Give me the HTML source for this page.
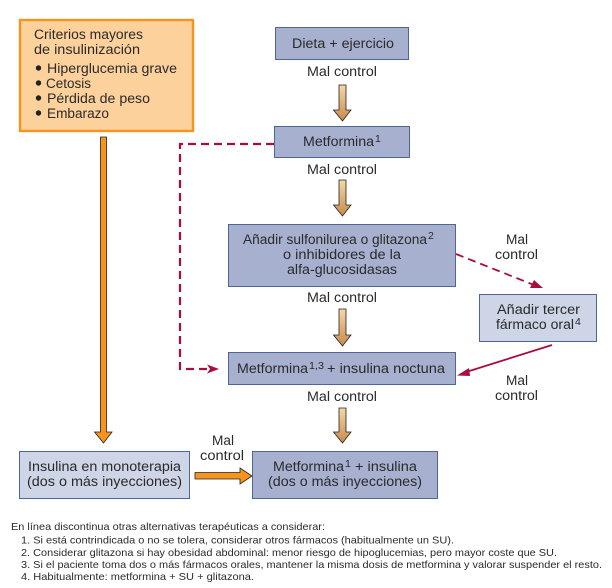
<!DOCTYPE html>
<html><head><meta charset="utf-8">
<style>
html,body{margin:0;padding:0;background:#fff;width:612px;height:588px;overflow:hidden}
svg{display:block}
text{font-family:"Liberation Sans",sans-serif;font-size:13.5px;fill:#2a2a2a}
.f{font-size:10.5px}
.sup{font-size:10.5px}
</style></head><body>
<svg width="612" height="588" viewBox="0 0 612 588" xmlns="http://www.w3.org/2000/svg">
<defs>
<linearGradient id="b" x1="0" y1="0" x2="0" y2="1"><stop offset="0" stop-color="#f3d9a6"/><stop offset="1" stop-color="#c88a4e"/></linearGradient>
</defs>

<!-- boxes -->
<rect x="20" y="20" width="173" height="111" fill="#fdd19b" stroke="#f7941d" stroke-width="2.4"/>
<rect x="275.5" y="27.5" width="133" height="32" fill="#a7b1cf" stroke="#4c6796" stroke-width="1"/>
<rect x="274.5" y="126.5" width="135" height="31" fill="#a7b1cf" stroke="#4c6796" stroke-width="1"/>
<rect x="228.5" y="224.5" width="227" height="62" fill="#a7b1cf" stroke="#4c6796" stroke-width="1"/>
<rect x="479.5" y="294.5" width="117" height="47" fill="#ced5e6" stroke="#4c6796" stroke-width="1"/>
<rect x="228.5" y="352.5" width="227" height="32" fill="#a7b1cf" stroke="#4c6796" stroke-width="1"/>
<rect x="252.5" y="451.5" width="185" height="47" fill="#a7b1cf" stroke="#4c6796" stroke-width="1"/>
<rect x="19.5" y="451.5" width="170" height="47" fill="#ced5e6" stroke="#4c6796" stroke-width="1"/>

<!-- brown arrows -->
<polygon points="339,85 346,85 346,110 351,110 342.5,121 333.5,110 339,110" fill="url(#b)" stroke="#222" stroke-width=".8"/>
<polygon points="339,180 346,180 346,205 351,205 342.5,216 333.5,205 339,205" fill="url(#b)" stroke="#222" stroke-width=".8"/>
<polygon points="339,309 346,309 346,335 351,335 342.5,346 333.5,335 339,335" fill="url(#b)" stroke="#222" stroke-width=".8"/>
<polygon points="339,408 346,408 346,432 351,432 342.5,443 333.5,432 339,432" fill="url(#b)" stroke="#222" stroke-width=".8"/>

<!-- orange arrows -->
<polygon points="100.5,137 106.5,137 106.5,432 112,432 103.5,443 94.5,432 100.5,432" fill="#f7941d" stroke="#222" stroke-width=".8"/>
<polygon points="195,472.5 240,472.5 240,468 252,476 240,484 240,479 195,479" fill="#f7941d" stroke="#222" stroke-width=".8"/>

<!-- dashed connector -->
<path d="M274 144H180V369H210" fill="none" stroke="#a80d3e" stroke-width="2.2" stroke-dasharray="8 5"/>
<polygon points="207,364.500 219,369 207,373.500 210,369" fill="#a80d3e"/>
<path d="M456 254L534 285" fill="none" stroke="#a80d3e" stroke-width="1.800" stroke-dasharray="8 5"/>
<polygon points="543,288 530,288 534,280" fill="#a80d3e"/>
<path d="M552 345L463 373" fill="none" stroke="#a80d3e" stroke-width="1.800"/>
<polygon points="457,375.500 469,368 470,376" fill="#a80d3e"/>

<!-- orange box text -->
<text x="34" y="39" textLength="109" lengthAdjust="spacingAndGlyphs">Criterios mayores</text>
<text x="34" y="54" textLength="106" lengthAdjust="spacingAndGlyphs">de insulinización</text>
<circle cx="38.500" cy="68" r="2.700" fill="#222"/>
<circle cx="38.500" cy="83" r="2.700" fill="#222"/>
<circle cx="38.500" cy="98" r="2.700" fill="#222"/>
<circle cx="38.500" cy="113" r="2.700" fill="#222"/>
<text x="47" y="73" textLength="130" lengthAdjust="spacingAndGlyphs">Hiperglucemia grave</text>
<text x="46" y="88" textLength="45" lengthAdjust="spacingAndGlyphs">Cetosis</text>
<text x="47" y="103" textLength="103" lengthAdjust="spacingAndGlyphs">Pérdida de peso</text>
<text x="47" y="118" textLength="62" lengthAdjust="spacingAndGlyphs">Embarazo</text>

<!-- flow text -->
<text x="292" y="48" textLength="102" lengthAdjust="spacingAndGlyphs">Dieta + ejercicio</text>
<text x="307" y="76" textLength="70" lengthAdjust="spacingAndGlyphs">Mal control</text>
<text x="303" y="146" textLength="71" lengthAdjust="spacingAndGlyphs">Metformina</text>
<text x="375" y="142" class="sup">1</text>
<text x="307" y="174" textLength="70" lengthAdjust="spacingAndGlyphs">Mal control</text>
<text x="243" y="244" textLength="184" lengthAdjust="spacingAndGlyphs">Añadir sulfonilurea o glitazona</text>
<text x="428" y="239" class="sup">2</text>
<text x="283" y="259" textLength="118" lengthAdjust="spacingAndGlyphs">o inhibidores de la</text>
<text x="287" y="274" textLength="110" lengthAdjust="spacingAndGlyphs">alfa-glucosidasas</text>
<text x="307" y="302" textLength="70" lengthAdjust="spacingAndGlyphs">Mal control</text>
<text x="237" y="373" textLength="71" lengthAdjust="spacingAndGlyphs">Metformina</text>
<text x="309" y="369" class="sup" textLength="15" lengthAdjust="spacingAndGlyphs">1,3</text>
<text x="327" y="373" textLength="118" lengthAdjust="spacingAndGlyphs">+ insulina noctuna</text>
<text x="307" y="401" textLength="70" lengthAdjust="spacingAndGlyphs">Mal control</text>
<text x="273" y="471" textLength="71" lengthAdjust="spacingAndGlyphs">Metformina</text>
<text x="345" y="467" class="sup">1</text>
<text x="355" y="471" textLength="62" lengthAdjust="spacingAndGlyphs">+ insulina</text>
<text x="268" y="486" textLength="154" lengthAdjust="spacingAndGlyphs">(dos o más inyecciones)</text>
<text x="28" y="471" textLength="153" lengthAdjust="spacingAndGlyphs">Insulina en monoterapia</text>
<text x="27" y="486" textLength="155" lengthAdjust="spacingAndGlyphs">(dos o más inyecciones)</text>
<text x="212" y="445" textLength="22" lengthAdjust="spacingAndGlyphs">Mal</text>
<text x="200" y="460" textLength="44" lengthAdjust="spacingAndGlyphs">control</text>
<text x="506" y="244" textLength="22" lengthAdjust="spacingAndGlyphs">Mal</text>
<text x="495" y="259" textLength="43" lengthAdjust="spacingAndGlyphs">control</text>
<text x="497" y="314" textLength="83" lengthAdjust="spacingAndGlyphs">Añadir tercer</text>
<text x="496" y="329" textLength="78" lengthAdjust="spacingAndGlyphs">fármaco oral</text>
<text x="575" y="325" class="sup">4</text>
<text x="506" y="385" textLength="22" lengthAdjust="spacingAndGlyphs">Mal</text>
<text x="495" y="400" textLength="43" lengthAdjust="spacingAndGlyphs">control</text>

<!-- footnotes -->
<text class="f" x="11" y="530" textLength="314" lengthAdjust="spacingAndGlyphs">En línea discontinua otras alternativas terapéuticas a considerar:</text>
<text class="f" x="21" y="543.500" textLength="433" lengthAdjust="spacingAndGlyphs">1. Si está contrindicada o no se tolera, considerar otros fármacos (habitualmente un SU).</text>
<text class="f" x="21" y="556" textLength="536" lengthAdjust="spacingAndGlyphs">2. Considerar glitazona si hay obesidad abdominal: menor riesgo de hipoglucemias, pero mayor coste que SU.</text>
<text class="f" x="21" y="568" textLength="581" lengthAdjust="spacingAndGlyphs">3. Si el paciente toma dos o más fármacos orales, mantener la misma dosis de metformina y valorar suspender el resto.</text>
<text class="f" x="21" y="580" textLength="233" lengthAdjust="spacingAndGlyphs">4. Habitualmente: metformina + SU + glitazona.</text>
</svg>
</body></html>
